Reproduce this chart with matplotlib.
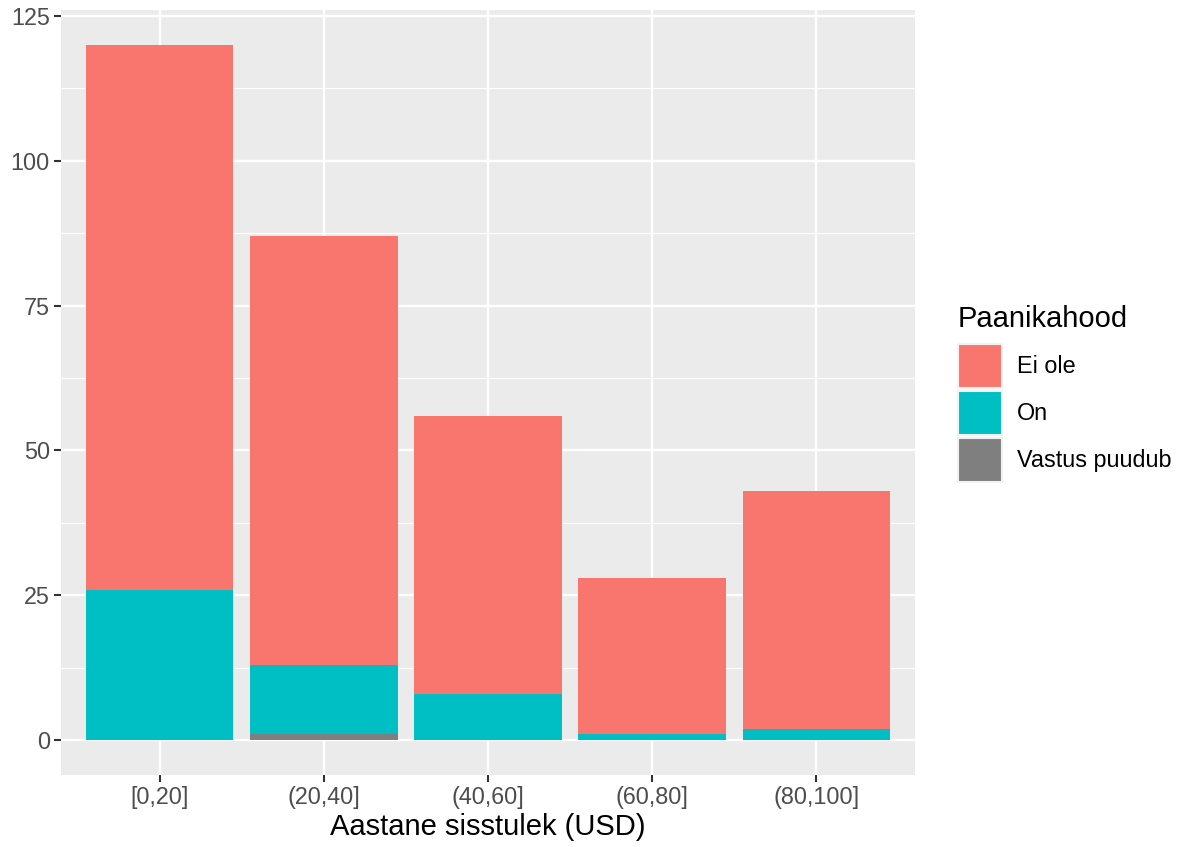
import matplotlib
matplotlib.use("Agg")
from matplotlib import pyplot as plt
from matplotlib.patches import Patch
import numpy as np

plt.rcParams['font.family'] = ['Liberation Sans', 'DejaVu Sans']

groups = ["[0,20]", "(20,40]", "(40,60]", "(60,80]", "(80,100]"]
ei_ole = [94, 74, 48, 27, 41]
on = [26, 12, 8, 1, 2]
puudub = [0, 1, 0, 0, 0]
levels = ["Ei ole", "On", "Vastus puudub"]
colors = ["#F8766D", "#00BFC4", "#7F7F7F"]

fig = plt.figure(figsize=(11.88, 8.47), dpi=100)
ax = fig.add_axes([61/1188, 1 - 775/847, (915-61)/1188, (775-10)/847])
ax.set_facecolor("#EBEBEB")

x = np.arange(1, len(groups) + 1)
ax.bar(x, puudub, width=0.9, color=colors[2], zorder=3)
ax.bar(x, on, width=0.9, bottom=puudub, color=colors[1], zorder=3)
ax.bar(x, ei_ole, width=0.9, bottom=np.array(puudub) + np.array(on), color=colors[0], zorder=3)

ax.set_xlim(0.4, 5.6)
ax.set_ylim(-6, 126)
ax.set_xticks(x)
ax.set_xticklabels(groups)
ax.set_yticks([0, 25, 50, 75, 100, 125])
ax.set_yticks([12.5, 37.5, 62.5, 87.5, 112.5], minor=True)
ax.grid(which="major", color="white", linewidth=1.7, zorder=0)
ax.grid(which="minor", axis="y", color="white", linewidth=0.85, zorder=0)
ax.set_axisbelow(True)
for s in ax.spines.values():
    s.set_visible(False)
ax.tick_params(which="major", length=5, width=1.5, color="#333333",
               labelsize=16.8, labelcolor="#4D4D4D", pad=3)
ax.tick_params(which="minor", length=0)

ax.set_xlabel("Aastane sisstulek (USD)", fontsize=21, color="black", labelpad=3)

# legend: title as separate text, keys via legend
fig.text(958/1188, 1 - 327/847, "Paanikahood", fontsize=21, color="black",
         ha="left", va="baseline")
handles = [Patch(facecolor=c, edgecolor="#F2F2F2", linewidth=1.5) for c in colors]
leg = fig.legend(handles, levels, loc="upper left",
                 bbox_to_anchor=(958/1188, 1 - 344/847), frameon=False,
                 fontsize=16.8, handlelength=1.87, handleheight=2.53,
                 labelspacing=0.13, handletextpad=0.64, borderpad=0, borderaxespad=0)

fig.savefig("out.png", dpi=100)
